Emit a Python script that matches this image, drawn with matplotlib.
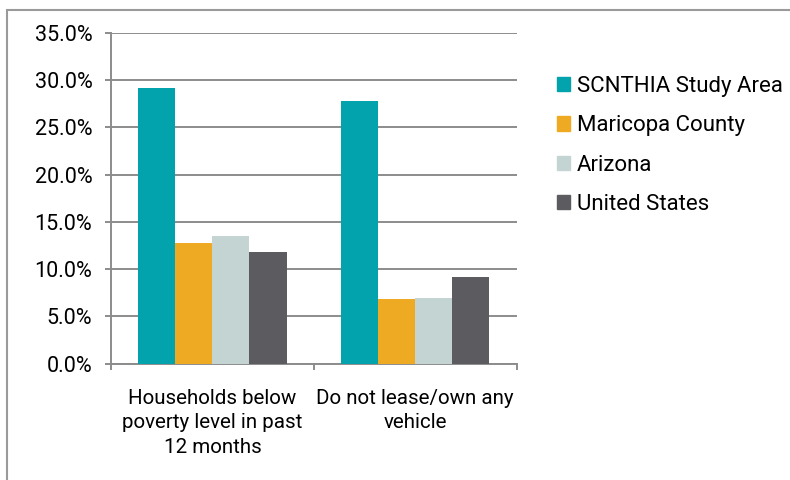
import matplotlib.pyplot as plt
import matplotlib.patches as mpatches
from matplotlib.ticker import FuncFormatter
import numpy as np

categories = ["Households below\npoverty level in past\n12 months", "Do not lease/own any\nvehicle"]
series = ["SCNTHIA Study Area", "Maricopa County", "Arizona", "United States"]
study_area = [29.2, 27.8]
maricopa = [12.8, 6.8]
arizona = [13.5, 6.95]
united_states = [11.8, 9.2]
colors = ["#02A3AD", "#EEAA22", "#C4D4D3", "#5B5B60"]

plt.rcParams['font.family'] = ['Roboto', 'DejaVu Sans']

fig = plt.figure(figsize=(7.9, 4.8), dpi=100)
ax = fig.add_axes([111/790, 1-363.5/480, 405.5/790, 330.5/480])

# frame round the whole chart, cut off at right and bottom like the source
fig.add_artist(mpatches.Rectangle((7/790, -0.2), 1.2, 1.2 + (480-9.5)/480 - 1.0,
                                  transform=fig.transFigure, fill=False,
                                  edgecolor="#9a9a9a", linewidth=1.5))

x = np.arange(len(categories))
w = 0.183
vals = [study_area, maricopa, arizona, united_states]
for i, (v, c, s) in enumerate(zip(vals, colors, series)):
    ax.bar(x + (i - 1.5)*w, v, w, color=c, label=s, zorder=3)

ax.set_xlim(-0.5, 1.5)
ax.set_ylim(0, 35)
ax.set_yticks(np.arange(0, 36, 5))
ax.yaxis.set_major_formatter(FuncFormatter(lambda v, p: "%.1f%%" % v))
ax.yaxis.grid(True, color="#8c8c8c", linewidth=1.4, zorder=0)
ax.set_axisbelow(True)

ax.set_xticks([-0.5, 0.5, 1.5], minor=False)
ax.set_xticklabels(["", "", ""])
ax.set_xticks(x, minor=True)
ax.set_xticklabels(categories, minor=True, fontsize=14.8, linespacing=1.38)
ax.tick_params(axis="x", which="minor", length=0, pad=18)
ax.tick_params(axis="x", which="major", length=4.5, width=1.4, color="#8c8c8c", direction="out")
ax.tick_params(axis="y", length=4.5, width=1.4, color="#8c8c8c", labelsize=15.5, pad=9)

for side in ["top", "right"]:
    ax.spines[side].set_visible(False)
for side in ["left", "bottom"]:
    ax.spines[side].set_color("#8c8c8c")
    ax.spines[side].set_linewidth(1.4)

handles = [mpatches.Patch(color=c) for c in colors]
fig.legend(handles, series, loc="upper left", bbox_to_anchor=(548/790, 1-67/480),
           frameon=False, fontsize=16, handlelength=0.6, handleheight=0.6,
           handletextpad=0.3, labelspacing=0.83, borderaxespad=0)

fig.savefig("out.png", dpi=100)
